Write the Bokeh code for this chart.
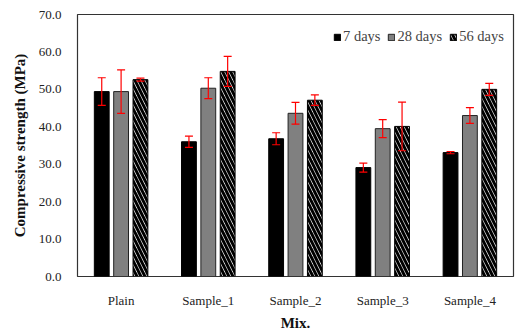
from bokeh.plotting import figure
from bokeh.models import ColumnDataSource, Whisker, TeeHead, Legend, LegendItem, FactorRange, SingleIntervalTicker, NumeralTickFormatter
from bokeh.transform import dodge
from bokeh.embed import file_html
from bokeh.resources import INLINE

mixes = ["Plain", "Sample_1", "Sample_2", "Sample_3", "Sample_4"]
d7 = [49.4, 36.0, 36.8, 29.1, 33.1]
d7_err = [3.7, 1.5, 1.6, 1.2, 0.3]
d28 = [49.4, 50.3, 43.6, 39.5, 43.0]
d28_err = [5.8, 2.8, 2.9, 2.4, 2.1]
d56 = [52.6, 54.8, 47.1, 40.1, 50.0]
d56_err = [0.4, 4.0, 1.4, 6.5, 1.6]
series_names = ["7 days", "28 days", "56 days"]

src = ColumnDataSource(dict(
    mix=mixes, d7=d7, d28=d28, d56=d56,
    d7_lo=[v - e for v, e in zip(d7, d7_err)], d7_hi=[v + e for v, e in zip(d7, d7_err)],
    d28_lo=[v - e for v, e in zip(d28, d28_err)], d28_hi=[v + e for v, e in zip(d28, d28_err)],
    d56_lo=[v - e for v, e in zip(d56, d56_err)], d56_hi=[v + e for v, e in zip(d56, d56_err)],
))

FONT = "Liberation Serif"

p = figure(x_range=FactorRange(*mixes, range_padding=0), y_range=(0, 70),
           frame_width=436, frame_height=262,
           min_border_left=77, min_border_top=14, min_border_right=4, min_border_bottom=48,
           output_backend="svg", toolbar_location=None)

off = 0.222
w = 0.17
r7 = p.vbar(x=dodge("mix", -off, range=p.x_range), top="d7", width=w, source=src,
            fill_color="black", line_color="black", line_width=1)
r28 = p.vbar(x=dodge("mix", 0, range=p.x_range), top="d28", width=w, source=src,
             fill_color="#808080", line_color="#222222", line_width=1)
r56 = p.vbar(x=dodge("mix", off, range=p.x_range), top="d56", width=w, source=src,
             fill_color="white", line_color="black", line_width=1,
             hatch_pattern="\\", hatch_color="black", hatch_scale=8, hatch_weight=3)

for key, o in (("d7", -off), ("d28", 0), ("d56", off)):
    wk = Whisker(source=src, base=dodge("mix", o, range=p.x_range),
                 upper=key + "_hi", lower=key + "_lo", level="overlay",
                 line_color="red", line_width=1.2,
                 upper_head=TeeHead(size=8, line_color="red", line_width=1.2),
                 lower_head=TeeHead(size=8, line_color="red", line_width=1.2))
    p.add_layout(wk)

legend = Legend(items=[LegendItem(label=series_names[0], renderers=[r7]),
                       LegendItem(label=series_names[1], renderers=[r28]),
                       LegendItem(label=series_names[2], renderers=[r56])],
                orientation="horizontal", location=(256, 231),
                border_line_color=None, background_fill_alpha=0,
                label_text_font=FONT, label_text_font_size="14.5px",
                glyph_width=8, glyph_height=8, spacing=7, label_standoff=2,
                padding=4, margin=0)
p.add_layout(legend)

p.grid.visible = False
p.outline_line_color = "#333333"
p.outline_line_width = 1.2

p.yaxis.ticker = SingleIntervalTicker(interval=10)
p.yaxis.formatter = NumeralTickFormatter(format="0.0")
for ax in (p.xaxis[0], p.yaxis[0]):
    ax.axis_line_color = None
    ax.major_tick_line_color = None
    ax.minor_tick_line_color = None
    ax.major_label_text_font = FONT
    ax.major_label_text_font_size = "13px"
    ax.major_label_text_color = "#222222"
    ax.axis_label_text_font = FONT
    ax.axis_label_text_font_style = "bold"
    ax.axis_label_text_font_size = "15px"
    ax.axis_label_text_color = "#111111"

p.yaxis.axis_label = "Compressive strength (MPa)"
p.xaxis.axis_label = "Mix."
p.yaxis.major_label_standoff = 10
p.xaxis.major_label_standoff = 10
p.xaxis.axis_label_standoff = 4
p.yaxis.axis_label_standoff = 8

open("out.html", "w").write(file_html(p, INLINE))
